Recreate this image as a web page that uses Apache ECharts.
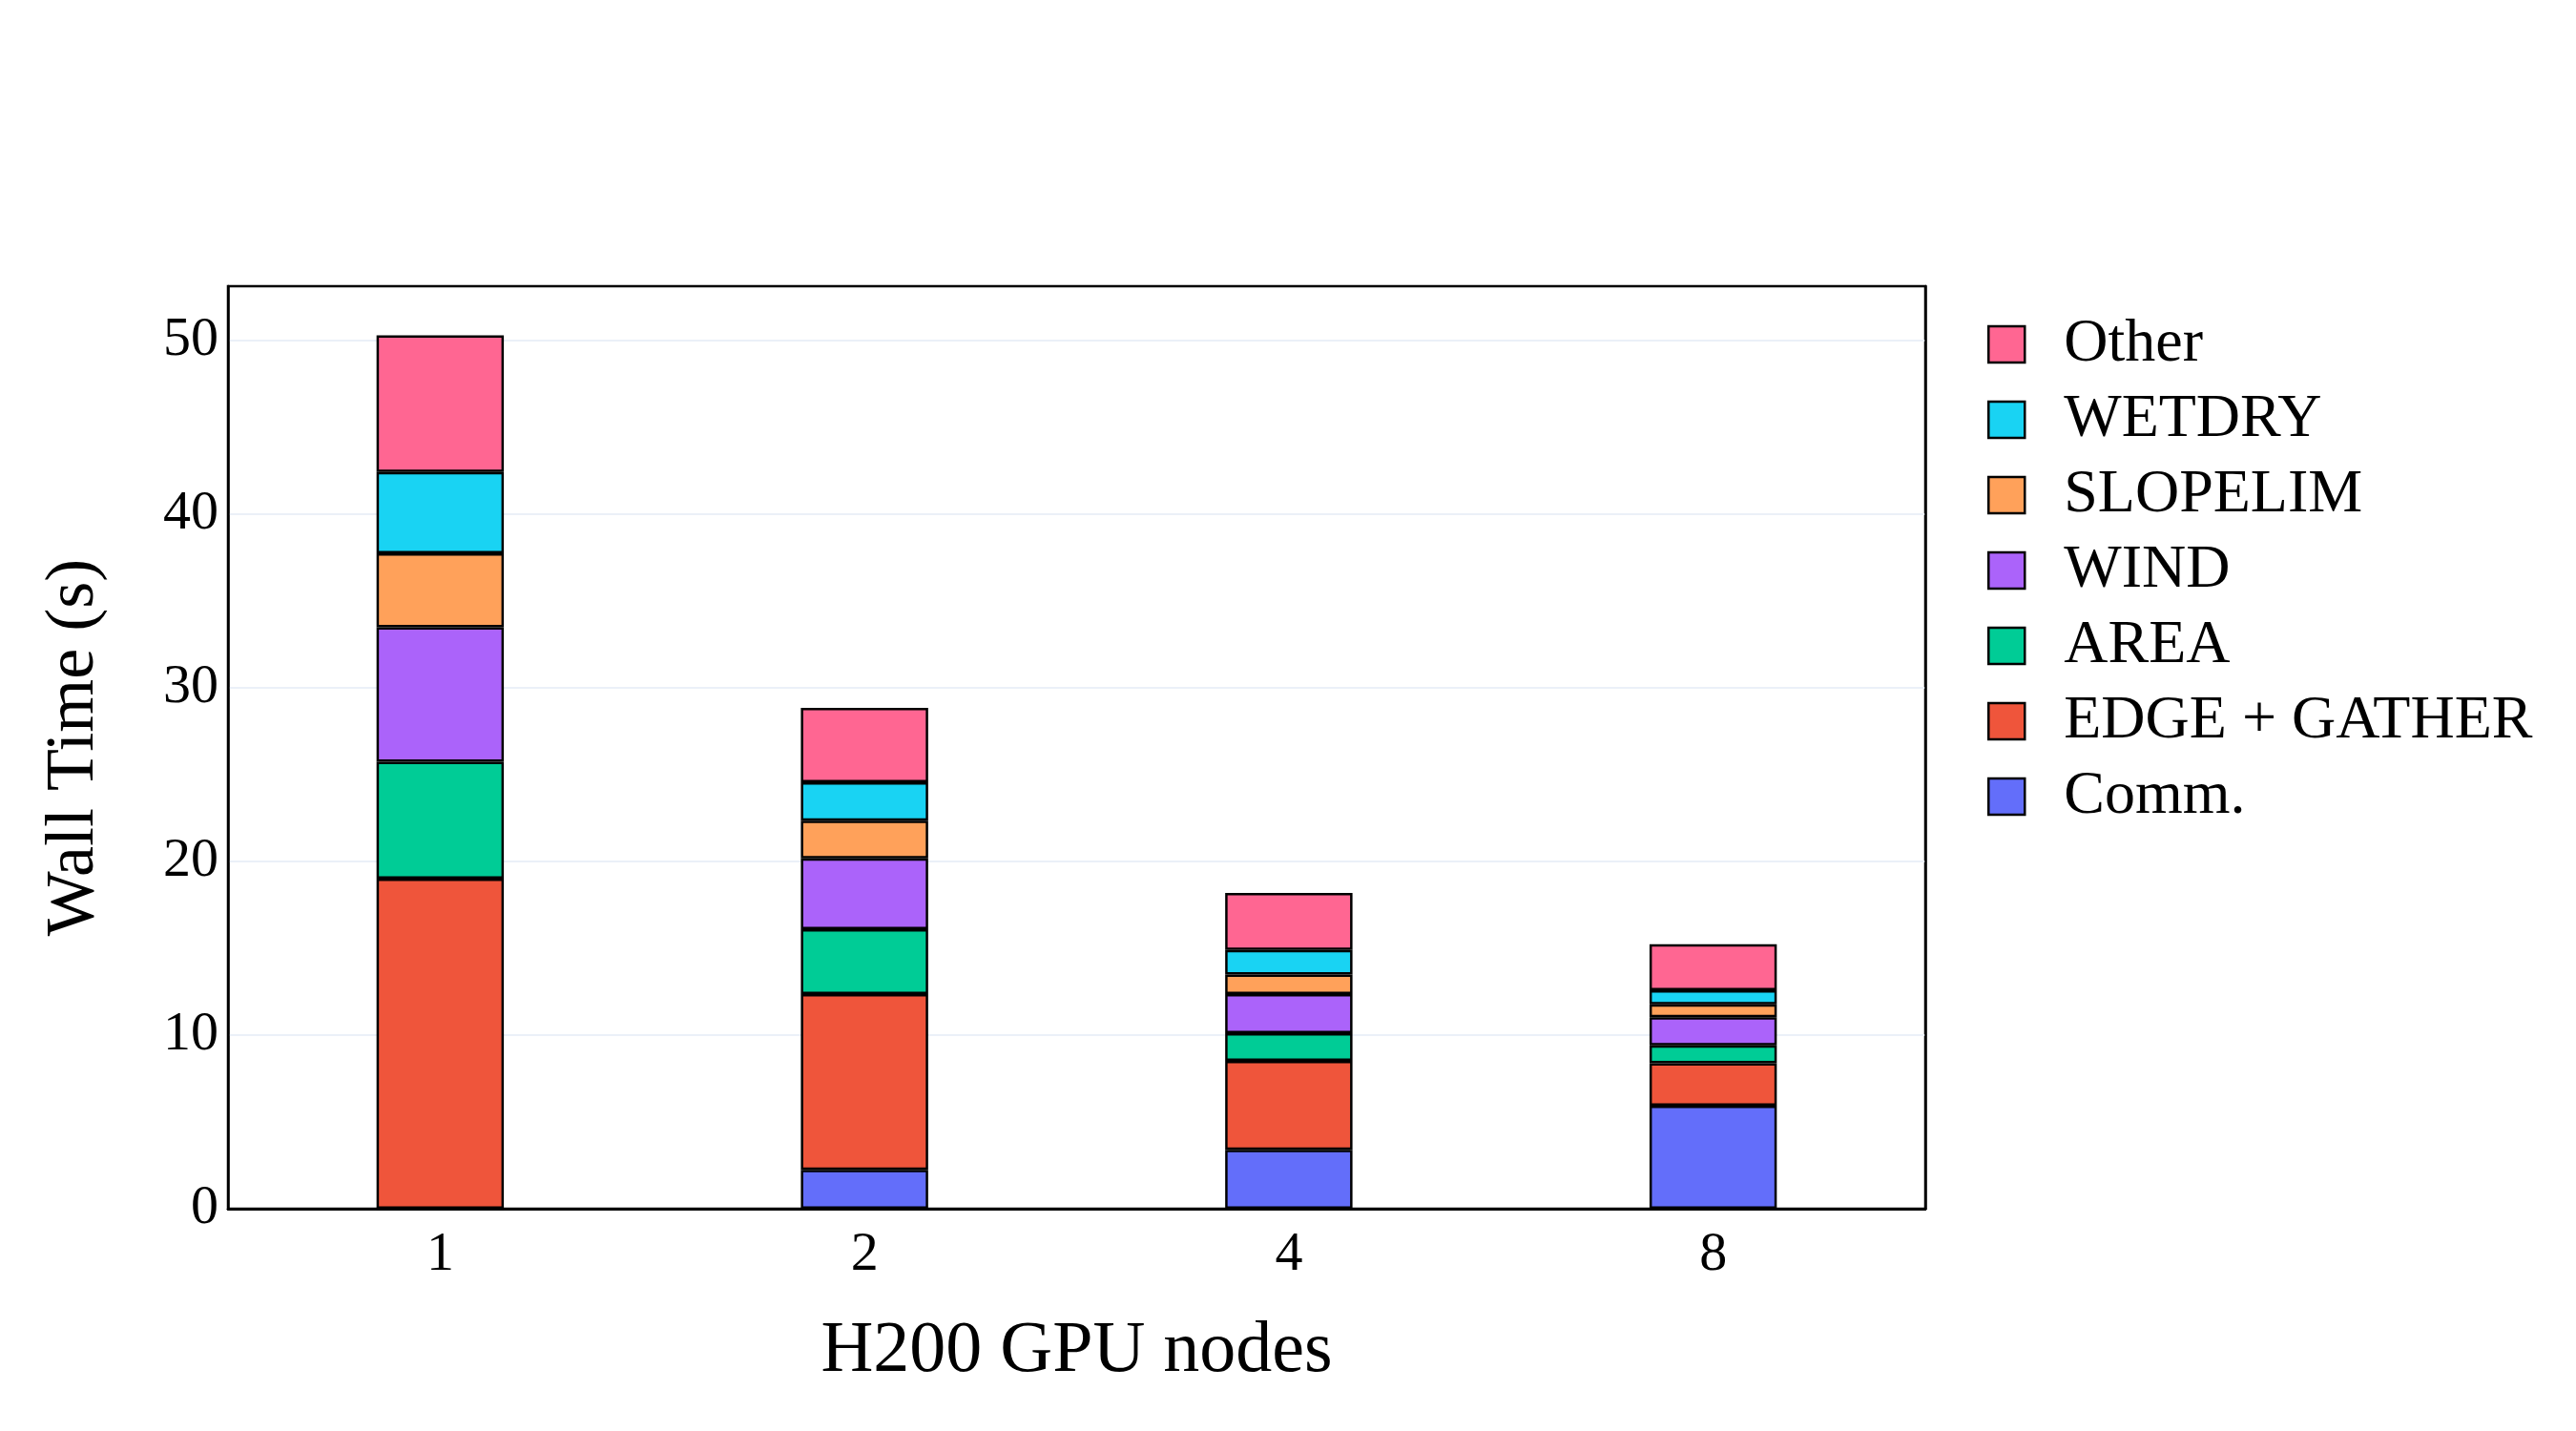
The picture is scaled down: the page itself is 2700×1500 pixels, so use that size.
<!DOCTYPE html>
<html>
<head>
<meta charset="utf-8">
<script src="https://cdn.jsdelivr.net/npm/echarts@6/dist/echarts.min.js"></script>
<style>html,body{margin:0;padding:0;background:#fff;}#c{width:2700px;height:1500px;}</style>
</head>
<body>
<div id="c"></div>
<script>
const categories = ['1', '2', '4', '8'];
const comm     = [0.0, 2.24, 3.39, 5.93];
const edgeGath = [19.0, 10.12, 5.12, 2.44];
const area     = [6.73, 3.73, 1.60, 1.04];
const wind     = [7.74, 4.07, 2.25, 1.62];
const slopelim = [4.26, 2.17, 1.12, 0.73];
const wetdry   = [4.68, 2.22, 1.42, 0.81];
const other    = [7.86, 4.28, 3.27, 2.66];
const yTicks = [0, 10, 20, 30, 40, 50];

const seriesDefs = [
  ['Comm.', comm, '#636EFA'],
  ['EDGE + GATHER', edgeGath, '#EF553B'],
  ['AREA', area, '#00CC96'],
  ['WIND', wind, '#AB63FA'],
  ['SLOPELIM', slopelim, '#FFA15A'],
  ['WETDRY', wetdry, '#19D3F3'],
  ['Other', other, '#FF6692']
];
const FONT = "'Liberation Serif', 'Times New Roman', serif";

const chart = echarts.init(document.getElementById('c'), null, {renderer: 'canvas'});
chart.setOption({
  backgroundColor: '#ffffff',
  animation: false,
  textStyle: {fontFamily: FONT, color: '#000'},
  grid: {left: 239, right: 682, top: 300, bottom: 233, show: true, borderColor: '#000', borderWidth: 2.5, containLabel: false},
  legend: {
    orient: 'vertical', left: 2078, top: 324,
    data: seriesDefs.map(s => s[0]).reverse(),
    itemWidth: 38, itemHeight: 38, itemGap: 15,
    icon: 'rect',
    textStyle: {fontFamily: FONT, fontSize: 64, color: '#000', padding: [0, 0, 0, 36]},
    itemStyle: {borderColor: '#000', borderWidth: 2.5}
  },
  xAxis: [{
    type: 'category', data: categories,
    name: 'H200 GPU nodes', nameLocation: 'middle', nameGap: 112,
    nameTextStyle: {fontFamily: FONT, fontSize: 76, color: '#000'},
    axisLine: {lineStyle: {color: '#000', width: 2.5}},
    axisTick: {show: false},
    axisLabel: {fontFamily: FONT, fontSize: 58, color: '#000', margin: 20},
    splitLine: {show: false}
  }, {
    type: 'category', data: categories, position: 'top',
    axisLine: {show: true, lineStyle: {color: '#000', width: 2.5}},
    axisTick: {show: false}, axisLabel: {show: false}, splitLine: {show: false}
  }],
  yAxis: [{
    type: 'value', min: yTicks[0], max: 53.1, interval: 10,
    name: 'Wall Time (s)', nameLocation: 'middle', nameGap: 125, nameRotate: 90,
    nameTextStyle: {fontFamily: FONT, fontSize: 72, color: '#000'},
    axisLine: {show: true, lineStyle: {color: '#000', width: 2.5}},
    axisTick: {show: false},
    axisLabel: {fontFamily: FONT, fontSize: 58, color: '#000', margin: 10, showMaxLabel: false,
      formatter: v => (yTicks.indexOf(v) >= 0 ? String(v) : '')},
    splitLine: {show: true, showMaxLine: false, showMinLine: false, lineStyle: {color: '#EBF0F8', width: 2}}
  }, {
    type: 'value', min: yTicks[0], max: 53.1, position: 'right',
    axisLine: {show: true, lineStyle: {color: '#000', width: 2.5}},
    axisTick: {show: false}, axisLabel: {show: false}, splitLine: {show: false}
  }],
  series: seriesDefs.map(([name, data, color]) => ({
    name, type: 'bar', stack: 'total', data,
    barWidth: '30%',
    itemStyle: {color, borderColor: '#000', borderWidth: 2.5},
    emphasis: {disabled: true}
  }))
});
</script>
</body>
</html>
